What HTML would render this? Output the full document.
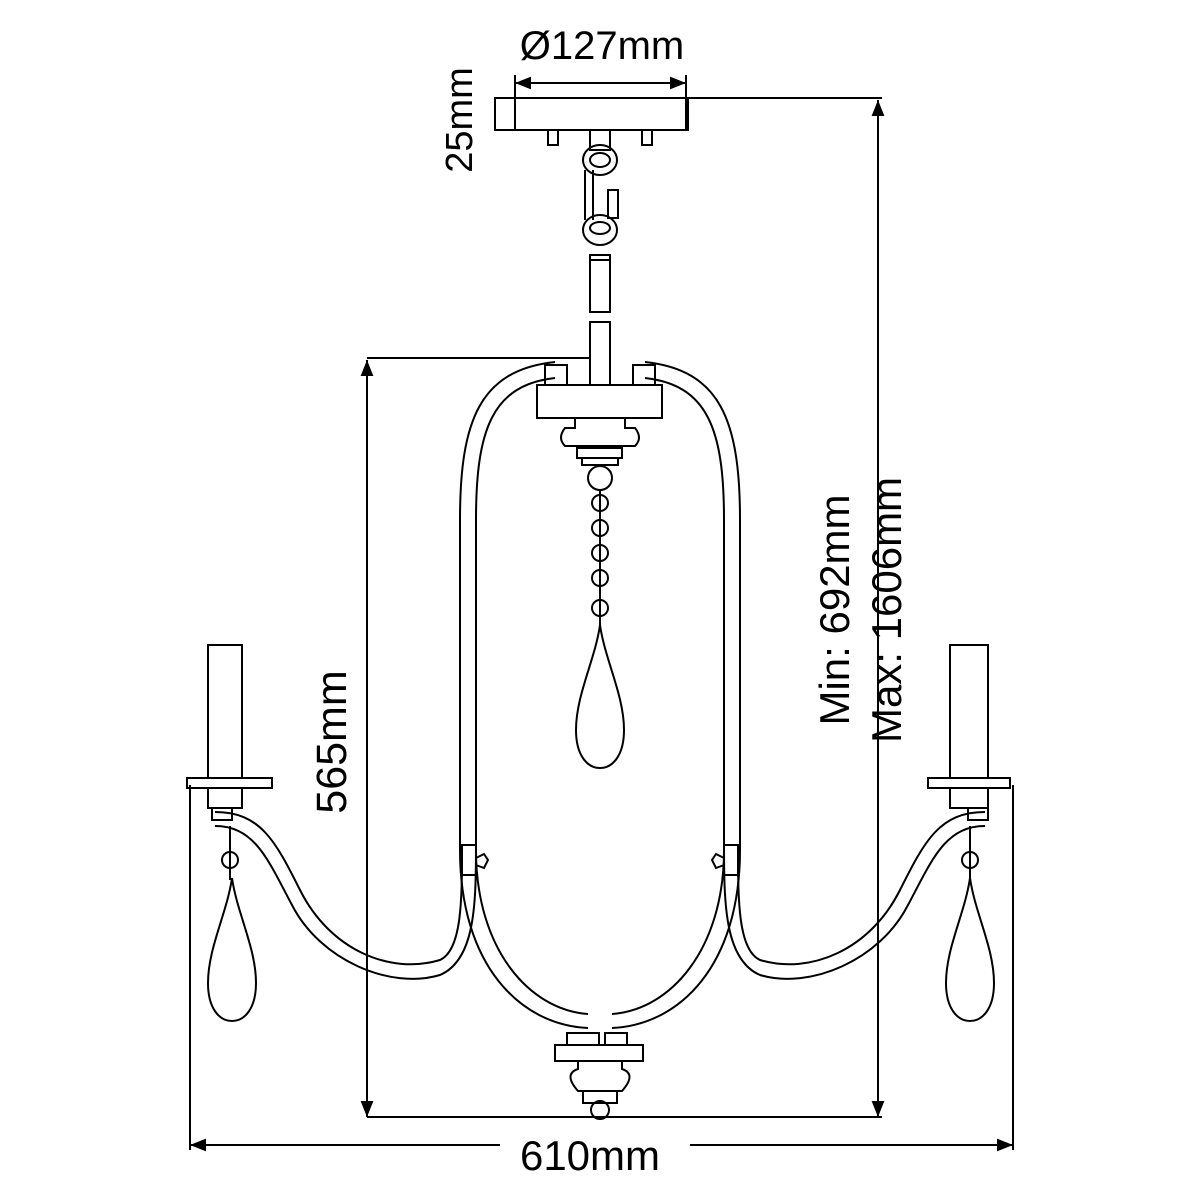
<!DOCTYPE html>
<html><head><meta charset="utf-8"><style>
html,body{margin:0;padding:0;background:#fff;}
svg{display:block}
text{font-family:"Liberation Sans",sans-serif;fill:#000}
</style></head><body>
<svg width="1200" height="1200" viewBox="0 0 1200 1200" xmlns="http://www.w3.org/2000/svg">
<defs>
<marker id="a" viewBox="0 0 10 10" refX="10" refY="5" markerWidth="8" markerHeight="8" orient="auto-start-reverse"><path d="M0,1 L10,5 L0,9 z" fill="#000"/></marker>
<g id="drop"><path d="M0,0 C5,35 24,70 24,105 C24,130 13,143 0,143 C-13,143 -24,130 -24,105 C-24,70 -5,35 0,0 z" fill="none" stroke="#000" stroke-width="2"/></g>
</defs>
<g fill="none" stroke="#000" stroke-width="2">
<line x1="515" y1="83" x2="686" y2="83" marker-start="url(#a)" marker-end="url(#a)"/>
<line x1="515" y1="75" x2="515" y2="130"/><line x1="686" y1="75" x2="686" y2="130"/>
<line x1="688" y1="98" x2="882" y2="98"/>
<line x1="878" y1="100" x2="878" y2="1117" marker-start="url(#a)" marker-end="url(#a)"/>
<line x1="367" y1="358" x2="590" y2="358"/>
<line x1="367" y1="360" x2="367" y2="1117" marker-start="url(#a)" marker-end="url(#a)"/>
<line x1="367" y1="1117" x2="882" y2="1117"/>
<line x1="190" y1="1145" x2="500" y2="1145" marker-start="url(#a)"/>
<line x1="690" y1="1145" x2="1013" y2="1145" marker-end="url(#a)"/>
<line x1="190" y1="785" x2="190" y2="1150"/><line x1="1013" y1="785" x2="1013" y2="1150"/>
<rect x="495" y="98" width="193" height="32"/>
<rect x="548" y="130" width="10" height="15"/><rect x="642" y="130" width="10" height="15"/>
<rect x="590" y="130" width="20" height="20"/>
<ellipse cx="600" cy="160" rx="17" ry="15"/><ellipse cx="600" cy="160" rx="10" ry="7"/>
<line x1="585" y1="170" x2="585" y2="220"/><line x1="593" y1="170" x2="593" y2="220"/>
<rect x="608" y="190" width="10" height="28"/>
<ellipse cx="600" cy="230" rx="17" ry="15"/><ellipse cx="600" cy="228" rx="10" ry="6"/>
<rect x="590" y="255" width="20" height="5"/>
<rect x="590" y="260" width="20" height="52"/>
<rect x="590" y="322" width="20" height="63"/>
<rect x="537" y="385" width="125" height="33"/>
<rect x="545" y="365" width="22" height="20"/><rect x="633" y="365" width="22" height="20"/>
<path d="M575,418 v10 h-10 q-8,10 0,18 h70 q8,-8 0,-18 h-10 v-10"/>
<rect x="577" y="448" width="45" height="10"/><rect x="582" y="458" width="36" height="7"/>
<circle cx="600" cy="478" r="12"/>
<circle cx="600" cy="503" r="8"/><circle cx="600" cy="528" r="8"/><circle cx="600" cy="553" r="8"/><circle cx="600" cy="578" r="8"/><circle cx="600" cy="608" r="8"/>
<line x1="600" y1="490" x2="600" y2="625"/>
<path d="M555,362 C480,370 460,420 460,520 L460,850 C460,965 520,1025 588,1028"/>
<path d="M555,378 C492,385 476,430 476,520 L476,850 C476,950 530,1010 588,1014"/>
<path d="M645,362 C720,370 740,420 740,520 L740,850 C740,965 680,1025 612,1028"/>
<path d="M645,378 C708,385 724,430 724,520 L724,850 C724,950 670,1010 612,1014"/>
<rect x="555" y="1045" width="88" height="16"/>
<rect x="567" y="1033" width="32" height="12"/><rect x="605" y="1033" width="22" height="12"/>
<path d="M578,1061 v8 q-15,5 0,22 h44 q15,-17 0,-22 v-8"/>
<rect x="583" y="1091" width="34" height="12"/>
<circle cx="600" cy="1110" r="9"/>
<path d="M215,812 C260,812 275,840 300,890 C330,950 390,975 440,960 C462,950 462,900 462,845"/>
<path d="M215,826 C255,826 268,860 292,905 C320,960 390,990 440,975 C475,960 476,905 476,845"/>
<path d="M985,812 C940,812 925,840 900,890 C870,950 810,975 760,960 C738,950 738,900 738,845"/>
<path d="M985,826 C945,826 932,860 908,905 C880,960 810,990 760,975 C725,960 724,905 724,845"/>
<rect x="462" y="845" width="14" height="30"/><rect x="724" y="845" width="14" height="30"/>
<path d="M476,858 l8,-4 l4,6 l-4,8 l-8,-3"/><path d="M724,858 l-8,-4 l-4,6 l4,8 l8,-3"/>
<rect x="208" y="645" width="34" height="133"/><rect x="187" y="778" width="85" height="10"/><rect x="208" y="788" width="34" height="20"/><rect x="212" y="808" width="20" height="12"/>
<rect x="950" y="645" width="38" height="133"/><rect x="928" y="778" width="82" height="10"/><rect x="950" y="788" width="38" height="20"/><rect x="968" y="808" width="20" height="12"/>
<circle cx="230" cy="860" r="8"/><line x1="230" y1="826" x2="230" y2="880"/>
<circle cx="970" cy="860" r="8"/><line x1="970" y1="826" x2="970" y2="880"/>
</g>
<use href="#drop" x="600" y="625"/>
<use href="#drop" x="232" y="878"/>
<use href="#drop" x="970" y="878"/>
<text x="602" y="59" font-size="40" text-anchor="middle">Ø127mm</text>
<text transform="translate(472,120) rotate(-90)" font-size="38" text-anchor="middle">25mm</text>
<text transform="translate(346,742) rotate(-90)" font-size="43" text-anchor="middle">565mm</text>
<text transform="translate(849,610) rotate(-90)" font-size="42" text-anchor="middle">Min: 692mm</text>
<text transform="translate(901,610) rotate(-90)" font-size="42" text-anchor="middle">Max: 1606mm</text>
<text x="590" y="1170" font-size="42" text-anchor="middle">610mm</text>
</svg>
</body></html>
